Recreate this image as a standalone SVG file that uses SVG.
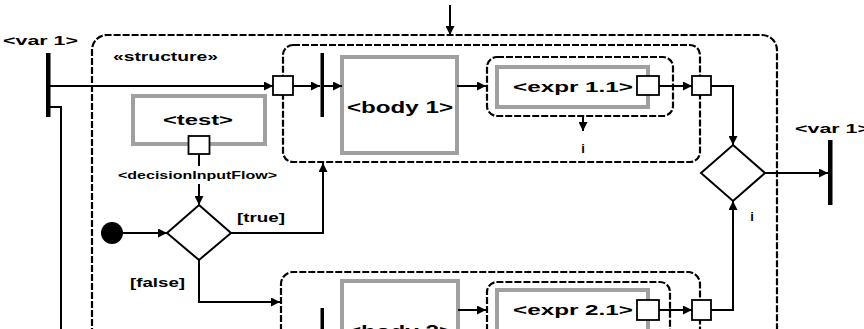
<svg xmlns="http://www.w3.org/2000/svg" width="864" height="329" viewBox="0 0 864 329">
<style>
.dash{fill:none;stroke:#000;stroke-width:2.2;stroke-dasharray:7 2}
.gray{fill:#fff;stroke:#a0a0a0;stroke-width:4}
.port{fill:#fff;stroke:#000;stroke-width:1.8}
.ln{fill:none;stroke:#000;stroke-width:2}
.bar{fill:#000}
.t{font-family:"Liberation Sans",Arial,sans-serif;font-weight:bold;fill:#000}
</style>
<defs>
<marker id="ah" markerUnits="userSpaceOnUse" markerWidth="9" markerHeight="9" refX="9" refY="4.5" orient="auto">
<path d="M0,0 L9,4.5 L0,9 z" fill="#000"/>
</marker>
</defs>
<rect width="864" height="329" fill="#fff"/>

<g id="structure">
<path class="dash" d="M92,335 V50 A15,15 0 0 1 107,35 H762 A15,15 0 0 1 777,50 V335"/>
<text class="t" x="113" y="61" font-size="12" textLength="105" lengthAdjust="spacingAndGlyphs">«structure»</text>
</g>

<g id="var1-in">
<text class="t" x="3" y="45" font-size="13" textLength="75" lengthAdjust="spacingAndGlyphs">&lt;var 1&gt;</text>
<rect class="bar" x="46" y="53" width="4.5" height="64"/>
</g>

<g id="var1-out">
<text class="t" x="795" y="133" font-size="13" textLength="75" lengthAdjust="spacingAndGlyphs">&lt;var 1&gt;</text>
<rect class="bar" x="828" y="140" width="4.5" height="65"/>
</g>

<g id="test">
<rect class="gray" x="133" y="96" width="132" height="48"/>
<text class="t" x="163" y="125" font-size="14" textLength="70" lengthAdjust="spacingAndGlyphs">&lt;test&gt;</text>
<rect class="port" x="188.5" y="136" width="21" height="18"/>
</g>

<g id="initial">
<circle cx="112" cy="233" r="11" fill="#000"/>
</g>

<g id="decision">
<path d="M199,205 L231,233 L199,260 L167,233 z" fill="#fff" stroke="#000" stroke-width="2"/>
</g>

<g id="merge">
<path d="M733,145 L765,173 L733,201 L701,173 z" fill="#fff" stroke="#000" stroke-width="2"/>
</g>

<g id="clause1">
<rect class="dash" x="283" y="45" width="417" height="117" rx="10"/>
<rect class="bar" x="320.5" y="53" width="3.5" height="64"/>
<rect class="gray" x="342" y="57" width="115" height="96"/>
<text class="t" x="347" y="113" font-size="16" textLength="106" lengthAdjust="spacingAndGlyphs">&lt;body 1&gt;</text>
<rect class="dash" x="487" y="57" width="186" height="59" rx="10"/>
<rect class="gray" x="497" y="67" width="151" height="40"/>
<text class="t" x="513" y="92" font-size="15" textLength="120" lengthAdjust="spacingAndGlyphs">&lt;expr 1.1&gt;</text>
<rect class="port" x="273" y="76" width="20" height="19"/>
<rect class="port" x="637" y="76" width="22" height="19"/>
<rect class="port" x="692" y="76" width="19" height="19"/>
</g>

<g id="clause2">
<path class="dash" d="M281,340 V284 A12,12 0 0 1 293,272 H688 A12,12 0 0 1 700,284 V340"/>
<rect class="bar" x="320.5" y="308" width="3.5" height="30"/>
<rect class="gray" x="342" y="281" width="116" height="70"/>
<text class="t" x="347" y="337" font-size="16" textLength="106" lengthAdjust="spacingAndGlyphs">&lt;body 2&gt;</text>
<path class="dash" d="M487,340 V292 A10,10 0 0 1 497,282 H660 A10,10 0 0 1 670,292 V340"/>
<rect class="gray" x="497" y="290" width="151" height="60"/>
<text class="t" x="513" y="315" font-size="15" textLength="120" lengthAdjust="spacingAndGlyphs">&lt;expr 2.1&gt;</text>
<rect class="port" x="637" y="300" width="22" height="20"/>
<rect class="port" x="692" y="300" width="19" height="20"/>
</g>

<g id="connectors">
<path class="ln" d="M450,5 V35" marker-end="url(#ah)"/>
<path class="ln" d="M50,86 H273" marker-end="url(#ah)"/>
<path class="ln" d="M50,107 H61 V335"/>
<path class="ln" d="M293,86 H320" marker-end="url(#ah)"/>
<path class="ln" d="M324,86 H342" marker-end="url(#ah)"/>
<path class="ln" d="M457,86 H486" marker-end="url(#ah)"/>
<path class="ln" d="M659,86 H692" marker-end="url(#ah)"/>
<path class="ln" d="M583,116 V131" marker-end="url(#ah)"/>
<path class="ln" d="M711,86 H733 V145" marker-end="url(#ah)"/>
<path class="ln" d="M765,173 H828" marker-end="url(#ah)"/>
<path class="ln" d="M199,154 V166"/>
<path class="ln" d="M199,184 V205" marker-end="url(#ah)"/>
<path class="ln" d="M123,233 H167" marker-end="url(#ah)"/>
<path class="ln" d="M231,233 H323 V163" marker-end="url(#ah)"/>
<path class="ln" d="M199,260 V302 H280" marker-end="url(#ah)"/>
<path class="ln" d="M458,310 H486" marker-end="url(#ah)"/>
<path class="ln" d="M659,310 H692" marker-end="url(#ah)"/>
<path class="ln" d="M711,310 H733 V201" marker-end="url(#ah)"/>
<text class="t" x="118" y="179" font-size="11" textLength="159" lengthAdjust="spacingAndGlyphs">&lt;decisionInputFlow&gt;</text>
<text class="t" x="237" y="222" font-size="13" textLength="48" lengthAdjust="spacingAndGlyphs">[true]</text>
<text class="t" x="130" y="287" font-size="13" textLength="55" lengthAdjust="spacingAndGlyphs">[false]</text>
<text class="t" x="583" y="153" font-size="13" text-anchor="middle">i</text>
<text class="t" x="752" y="221" font-size="13" text-anchor="middle">i</text>
</g>
</svg>
